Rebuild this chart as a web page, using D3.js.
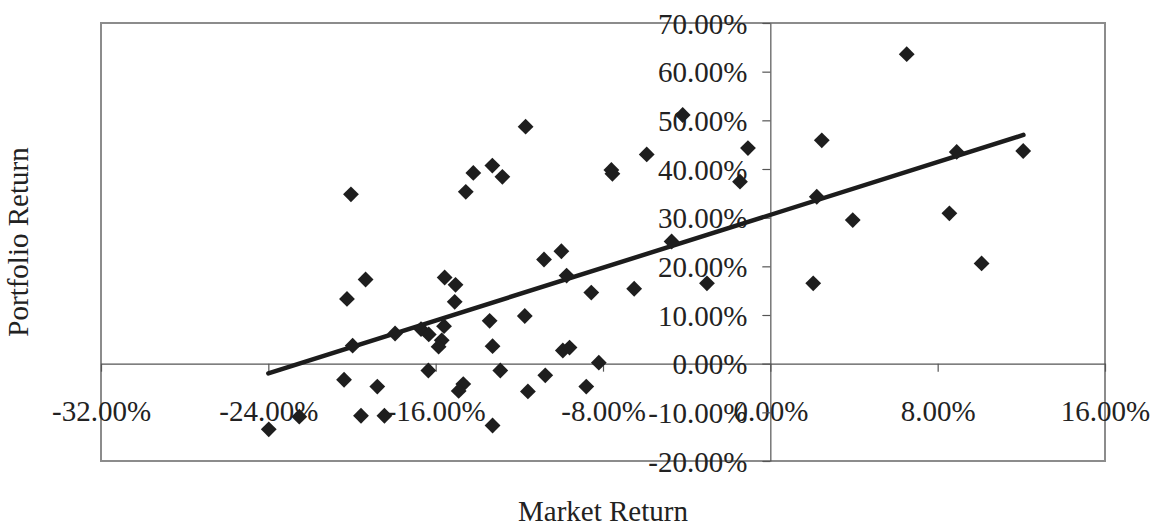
<!DOCTYPE html>
<html>
<head>
<meta charset="utf-8">
<script src="https://cdn.jsdelivr.net/npm/d3@7"></script>
<style>
  html, body { margin: 0; padding: 0; background: #ffffff; }
  svg { display: block; }
  text { font-family: "Liberation Serif", "Times New Roman", serif; fill: #222; }
</style>
</head>
<body>
<svg id="chart" width="1166" height="528"></svg>
<script>
// Market return (%) of each observation
const marketReturn = [
  6.52, -4.19, -11.70, -1.07, 2.46, -5.91, -13.29, -12.81, -14.20, -7.60,
  -7.55, -1.45, -20.05, -14.56, 8.91, 12.09, 2.22, 3.94, 8.56, -4.72,
  10.10, -9.99, -10.82, -9.74, -3.03, 2.05, -6.51, -8.56, -15.57, -15.05,
  -19.35, -20.24, -15.09, -11.74, -13.42, -17.94, -16.70, -16.33, -15.60, -15.71,
  -15.86, -19.97, -13.28, -9.92, -9.60, -8.20, -20.38, -16.35, -12.91, -18.79,
  -10.76, -14.68, -14.90, -8.80, -11.59, -19.57, -18.45, -22.52, -23.98, -13.28
];
// Portfolio return (%) of each observation
const portfolioReturn = [
  63.6, 51.1, 48.7, 44.3, 45.9, 43.0, 40.7, 38.4, 39.2, 39.8,
  39.0, 37.4, 34.8, 35.3, 43.5, 43.7, 34.3, 29.5, 30.9, 25.1,
  20.6, 23.1, 21.4, 18.1, 16.5, 16.5, 15.4, 14.6, 17.7, 16.2,
  17.3, 13.3, 12.7, 9.8, 8.8, 6.2, 7.1, 6.0, 7.7, 4.8,
  3.5, 3.7, 3.6, 2.7, 3.3, 0.2, -3.3, -1.4, -1.4, -4.7,
  -2.4, -4.2, -5.6, -4.7, -5.7, -10.7, -10.7, -10.9, -13.5, -12.7
];
// Fitted linear trend, start and end points
const trendX = [-24.0, 12.1];
const trendY = [-2.0, 47.0];
// Axis ticks
const xTicks = [-32, -24, -16, -8, 0, 8, 16];
const yTicks = [-20, -10, 0, 10, 20, 30, 40, 50, 60, 70];
const xTitle = "Market Return";
const yTitle = "Portfolio Return";

const svg = d3.select("#chart");
const plotLeft = 101, plotRight = 1105, plotTop = 23, plotBottom = 461;

const x = d3.scaleLinear().domain([-32, 16]).range([plotLeft, plotRight]);
const y = d3.scaleLinear().domain([-20, 70]).range([plotBottom, plotTop]);
const pct = d => d.toFixed(2) + "%";

// plot area frame
svg.append("rect")
  .attr("x", plotLeft).attr("y", plotTop)
  .attr("width", plotRight - plotLeft).attr("height", plotBottom - plotTop)
  .attr("fill", "none").attr("stroke", "#8c8c8c").attr("stroke-width", 2);

// horizontal axis through zero return
const gx = svg.append("g")
  .attr("transform", `translate(0,${y(0)})`)
  .call(d3.axisBottom(x).tickValues(xTicks).tickFormat(pct).tickSize(8).tickSizeOuter(0));
gx.select(".domain").attr("stroke", "#555").attr("stroke-width", 1.2);
gx.selectAll(".tick line").attr("stroke", "#555").attr("stroke-width", 1.2);
gx.selectAll(".tick text")
  .attr("y", 47).attr("dy", "0.35em")
  .style("font-size", "29px").attr("fill", "#222");

// vertical axis through zero market return
const gy = svg.append("g")
  .attr("transform", `translate(${x(0)},0)`)
  .call(d3.axisLeft(y).tickValues(yTicks).tickFormat(pct).tickSize(8).tickSizeOuter(0).tickPadding(15));
gy.select(".domain").attr("stroke", "#555").attr("stroke-width", 1.2);
gy.selectAll(".tick line").attr("stroke", "#555").attr("stroke-width", 1.2);
gy.selectAll(".tick text")
  .attr("dy", "0.35em")
  .style("font-size", "29px").attr("fill", "#222");

// trend line
svg.append("path")
  .datum(d3.zip(trendX, trendY))
  .attr("d", d3.line().x(d => x(d[0])).y(d => y(d[1])))
  .attr("fill", "none").attr("stroke", "#1c1c1c")
  .attr("stroke-width", 4.5).attr("stroke-linecap", "round");

// diamond markers
const diamond = d3.symbol().type(d3.symbolSquare).size(125);
svg.append("g")
  .selectAll("path")
  .data(d3.zip(marketReturn, portfolioReturn))
  .join("path")
  .attr("d", diamond)
  .attr("transform", d => `translate(${x(d[0])},${y(d[1])}) rotate(45)`)
  .attr("fill", "#1e1e1e");

// axis titles
svg.append("text")
  .attr("x", (plotLeft + plotRight) / 2).attr("y", 521)
  .attr("text-anchor", "middle")
  .style("font-size", "29px")
  .text(xTitle);

svg.append("text")
  .attr("transform", `translate(28,${(plotTop + plotBottom) / 2}) rotate(-90)`)
  .attr("text-anchor", "middle")
  .style("font-size", "29px")
  .text(yTitle);
</script>
</body>
</html>
